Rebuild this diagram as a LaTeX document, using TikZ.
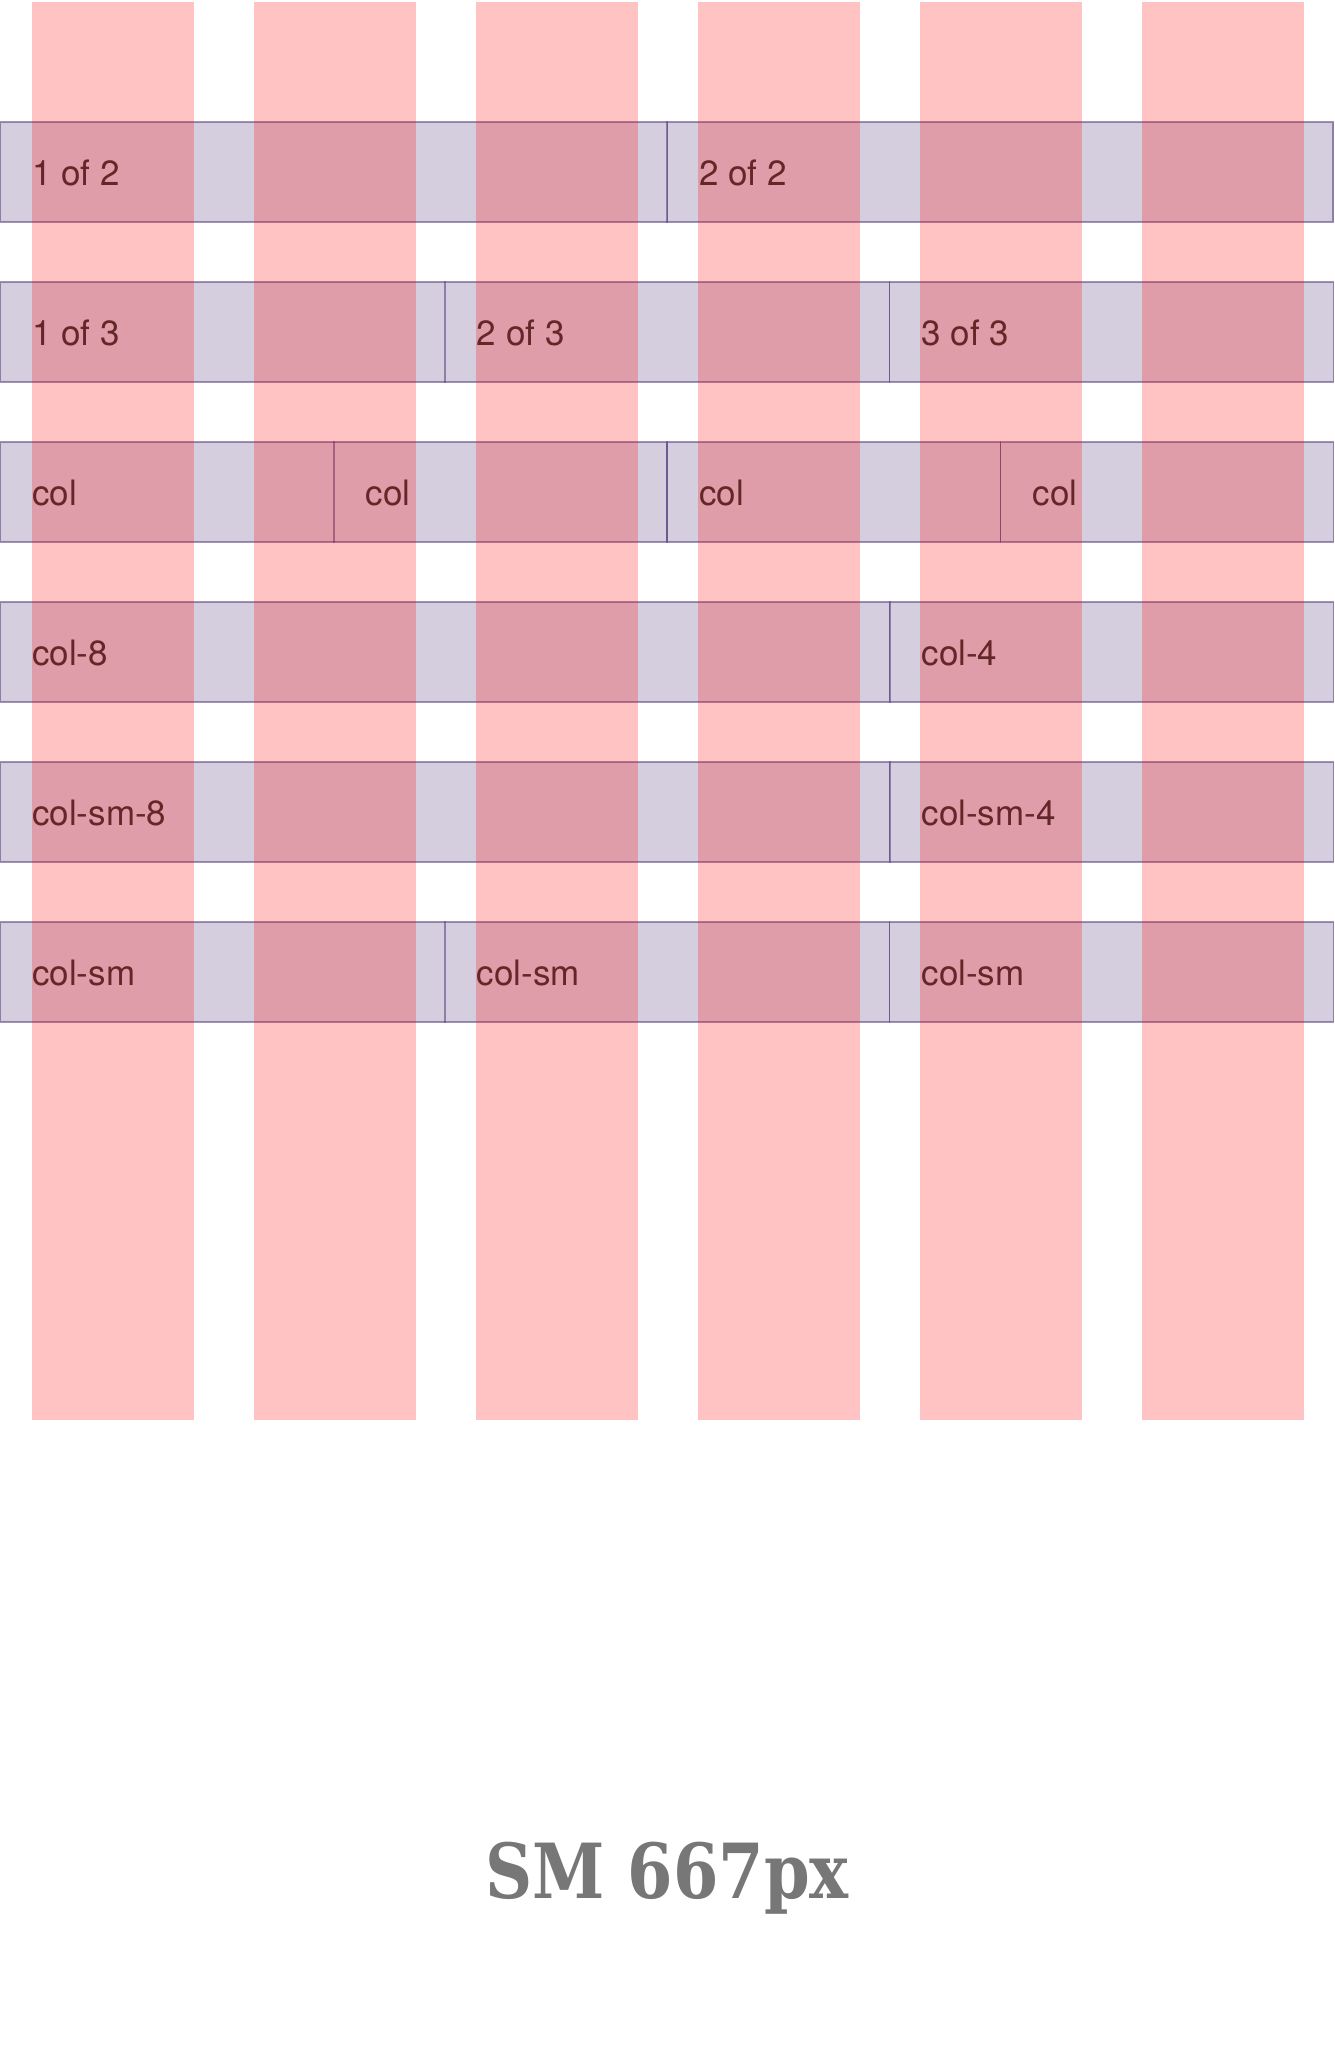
\documentclass[tikz,border=0pt]{standalone}
\usepackage{fontspec}
\setmainfont{TeX Gyre Heros}
\newfontfamily\titlefont{DejaVu Serif}
\definecolor{rowpurple}{RGB}{86,61,124}
\definecolor{txtdark}{RGB}{51,51,51}
\definecolor{titlegray}{RGB}{119,119,119}
\tikzset{
  rowbg/.style={fill=rowpurple,fill opacity=0.25,draw=none},
  cellbox/.style={draw=rowpurple,draw opacity=0.55,line width=1.3pt,fill=none,inner sep=0pt,outer sep=0pt,anchor=north west},
  lbl/.style={text=txtdark,font=\fontsize{35}{42}\selectfont,anchor=base west,inner sep=0pt},
  pinkcol/.style={fill=red,fill opacity=0.235,draw=none},
  titlelbl/.style={text=titlegray,font=\titlefont\bfseries\fontsize{76}{90}\selectfont,anchor=base,inner sep=0pt}
}
\begin{document}
\begin{tikzpicture}[x=1pt,y=-1pt]
\useasboundingbox (0,0) rectangle (1334,2050);
\fill[white] (0,0) rectangle (1334,2050);
% row backgrounds
\foreach \ry in {122,282,442,602,762,922}{
  \fill[rowbg] (0,\ry) rectangle (1334,\ry+100);
}
% row 1: halves
\node[cellbox,minimum width=667pt,minimum height=100pt] (r1a) at (0.65,122) {};
\node[cellbox,minimum width=666pt,minimum height=100pt] (r1b) at (667,122) {};
\node[lbl] (t1a) at (32,185) {1 of 2};
\node[lbl] (t1b) at (699,185) {2 of 2};
% row 2: thirds
\node[cellbox,minimum width=444.7pt,minimum height=100pt] (r2a) at (0.65,282) {};
\node[cellbox,minimum width=444.7pt,minimum height=100pt] (r2b) at (444.7,282) {};
\node[cellbox,minimum width=444.1pt,minimum height=100pt] (r2c) at (889.3,282) {};
\node[lbl] (t2a) at (32,345) {1 of 3};
\node[lbl] (t2b) at (476.7,345) {2 of 3};
\node[lbl] (t2c) at (921.3,345) {3 of 3};
% row 3: quarters
\node[cellbox,minimum width=333.5pt,minimum height=100pt] (r3a) at (0.65,442) {};
\node[cellbox,minimum width=333.5pt,minimum height=100pt] (r3b) at (333.5,442) {};
\node[cellbox,minimum width=333.5pt,minimum height=100pt] (r3c) at (667,442) {};
\node[cellbox,minimum width=332.8pt,minimum height=100pt] (r3d) at (1000.5,442) {};
\node[lbl] (t3a) at (32,505) {col};
\node[lbl] (t3b) at (365.5,505) {col};
\node[lbl] (t3c) at (699,505) {col};
\node[lbl] (t3d) at (1032.5,505) {col};
% row 4: 8 / 4
\node[cellbox,minimum width=889.3pt,minimum height=100pt] (r4a) at (0.65,602) {};
\node[cellbox,minimum width=444.1pt,minimum height=100pt] (r4b) at (889.3,602) {};
\node[lbl] (t4a) at (32,665) {col-8};
\node[lbl] (t4b) at (921.3,665) {col-4};
% row 5: sm 8 / 4
\node[cellbox,minimum width=889.3pt,minimum height=100pt] (r5a) at (0.65,762) {};
\node[cellbox,minimum width=444.1pt,minimum height=100pt] (r5b) at (889.3,762) {};
\node[lbl] (t5a) at (32,825) {col-sm-8};
\node[lbl] (t5b) at (921.3,825) {col-sm-4};
% row 6: sm thirds
\node[cellbox,minimum width=444.7pt,minimum height=100pt] (r6a) at (0.65,922) {};
\node[cellbox,minimum width=444.7pt,minimum height=100pt] (r6b) at (444.7,922) {};
\node[cellbox,minimum width=444.1pt,minimum height=100pt] (r6c) at (889.3,922) {};
\node[lbl] (t6a) at (32,985) {col-sm};
\node[lbl] (t6b) at (476.7,985) {col-sm};
\node[lbl] (t6c) at (921.3,985) {col-sm};
% pink grid columns
\foreach \cx in {32,254,476,698,920,1142}{
  \fill[pinkcol] (\cx,2) rectangle (\cx+162,1420);
}
% title
\node[titlelbl,xscale=0.86] (title) at (667,1898) {SM 667px};
\end{tikzpicture}
\end{document}
